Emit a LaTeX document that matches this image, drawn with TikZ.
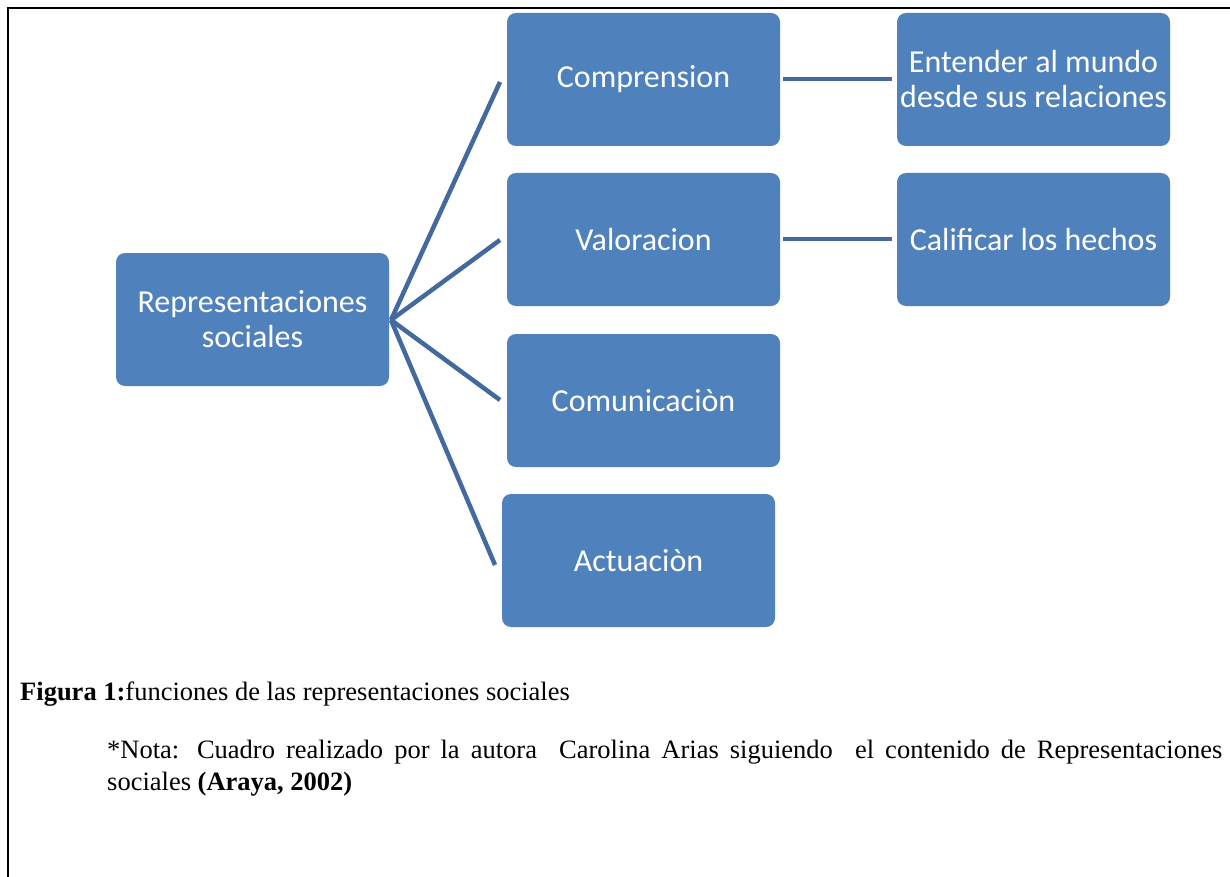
\documentclass[tikz,border=0pt]{standalone}
\usepackage{fontspec}
\setmainfont{Liberation Serif}
\newfontfamily\boxfont{Carlito}
\definecolor{boxblue}{HTML}{4F81BD}
\definecolor{lineblue}{HTML}{43699E}
\begin{document}
\begin{tikzpicture}[x=1pt,y=-1pt,
  fbox/.style={draw=none,fill=boxblue,rounded corners=9pt,minimum width=273pt,minimum height=133pt,
    text=white,align=center,font=\boxfont\fontsize{32}{35}\selectfont,inner sep=0pt},
  link/.style={draw=lineblue,line width=4.5pt},
  captxt/.style={inner sep=0pt,font={\fontsize{26.5}{32}\selectfont}}]
\useasboundingbox (0,0) rectangle (1230,877);
\draw[line width=1.5pt] (8,877) -- (8,8) -- (1230,8);
\node[fbox] (rep) at (252.5,319.5) {Representaciones\\sociales};
\node[fbox] (comp) at (643.5,79.5) {Comprension};
\node[fbox] (val) at (643.5,239.5) {Valoracion};
\node[fbox] (com) at (643.5,400.5) {Comunicaciòn};
\node[fbox] (act) at (638.5,560.5) {Actuaciòn};
\node[fbox] (ent) at (1033.5,79.5) {Entender al mundo\\desde sus relaciones};
\node[fbox] (cal) at (1033.5,239.5) {Calificar los hechos};
\coordinate (hub) at (391,320);
\coordinate (c1) at (500,82);
\coordinate (c2) at (500,240);
\coordinate (c3) at (500,400);
\coordinate (c4) at (495,565);
\coordinate (h1a) at (783,79);
\coordinate (h1b) at (892,79);
\coordinate (h2a) at (783,239);
\coordinate (h2b) at (892,239);
\draw[link] (hub) -- (c1);
\draw[link] (hub) -- (c2);
\draw[link] (hub) -- (c3);
\draw[link] (hub) -- (c4);
\draw[link] (h1a) -- (h1b);
\draw[link] (h2a) -- (h2b);
\node[captxt,anchor=base west] (cap) at (20,700) {\textbf{Figura 1:}funciones de las representaciones sociales};
\node[captxt,anchor=base west,text width=1115pt,align=justify] (nota) at (107,758)
 {*Nota: Cuadro realizado por la autora\ \ Carolina Arias siguiendo\ \ el contenido de Representaciones\linebreak sociales \textbf{(Araya, 2002)}};
\end{tikzpicture}
\end{document}
